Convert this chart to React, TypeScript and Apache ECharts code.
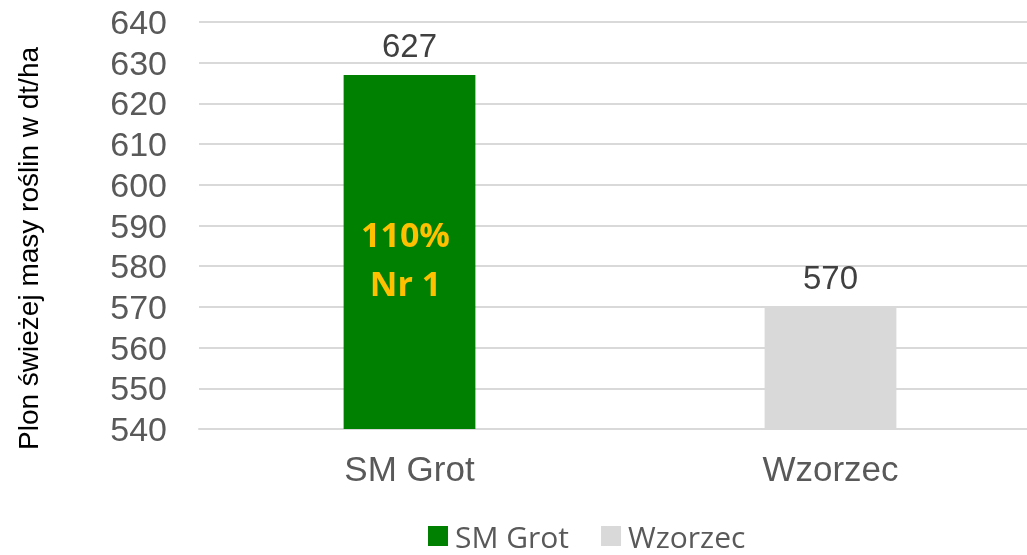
import React, { useEffect, useRef } from "react";
import * as echarts from "echarts";

const categories = ["SM Grot", "Wzorzec"];
const seriesNames = ["SM Grot", "Wzorzec"];
const smGrotValues: (number | string)[] = [627, "-"];
const wzorzecValues: (number | string)[] = ["-", 570];
const yTicks = { min: 540, max: 640, interval: 10 };
const innerLabelPoint: [string, number] = ["SM Grot", 582];
const innerLabelText = "110%\nNr 1";
const yAxisTitle = "Plon świeżej masy roślin w dt/ha";

export default function App() {
  const ref = useRef<HTMLDivElement>(null);
  useEffect(() => {
    if (!ref.current) return;
    const chart = echarts.init(ref.current, null, { renderer: "svg" });
    const valueLabel = {
      show: true,
      position: "top" as const,
      distance: 13,
      fontSize: 33,
      color: "#404040",
      fontFamily: "Liberation Sans",
    };
    chart.setOption({
      animation: false,
      grid: { left: 199, width: 842, top: 22, height: 407, outerBoundsMode: "none" },
      legend: {
        top: 516,
        left: 423,
        itemWidth: 20,
        itemHeight: 20,
        itemGap: 32,
        icon: "rect",
        textStyle: { fontSize: 30, color: "#595959", fontFamily: "Open Sans", padding: [0, 0, 0, 2] },
        data: seriesNames,
      },
      xAxis: {
        type: "category",
        data: categories,
        axisLine: { show: true, lineStyle: { color: "#d9d9d9", width: 2 } },
        axisTick: { show: false },
        axisLabel: { fontSize: 35, color: "#595959", margin: 22, fontFamily: "Liberation Sans" },
      },
      yAxis: {
        type: "value",
        min: yTicks.min,
        max: yTicks.max,
        interval: yTicks.interval,
        name: yAxisTitle,
        nameLocation: "middle",
        nameGap: 157,
        nameTextStyle: { fontSize: 28, color: "#000", fontFamily: "Liberation Sans", padding: [0, 46, 0, 0] },
        axisLine: { show: false },
        axisTick: { show: false },
        axisLabel: { fontSize: 34, color: "#595959", margin: 32, fontFamily: "Liberation Sans" },
        splitLine: { lineStyle: { color: "#d9d9d9", width: 2 } },
      },
      series: [
        {
          name: seriesNames[0],
          type: "bar",
          stack: "all",
          barWidth: "31.3%",
          data: smGrotValues,
          itemStyle: { color: "#008000" },
          label: valueLabel,
        },
        {
          name: seriesNames[1],
          type: "bar",
          stack: "all",
          barWidth: "31.3%",
          data: wzorzecValues,
          itemStyle: { color: "#d9d9d9" },
          label: valueLabel,
        },
        {
          name: "label",
          type: "scatter",
          data: [innerLabelPoint],
          symbolSize: 2,
          itemStyle: { color: "rgba(0,0,0,0)" },
          silent: true,
          clip: false,
          z: 10,
          label: {
            show: true,
            position: "inside",
            offset: [-4, 0],
            formatter: innerLabelText,
            fontSize: 34,
            fontWeight: "bold",
            lineHeight: 49,
            color: "#FFC000",
            opacity: 1,
            fontFamily: "Open Sans",
          },
        },
      ],
    });
    return () => chart.dispose();
  }, []);
  return <div ref={ref} style={{ position: "fixed", left: 0, top: 0, width: 1027, height: 555 }} />;
}
